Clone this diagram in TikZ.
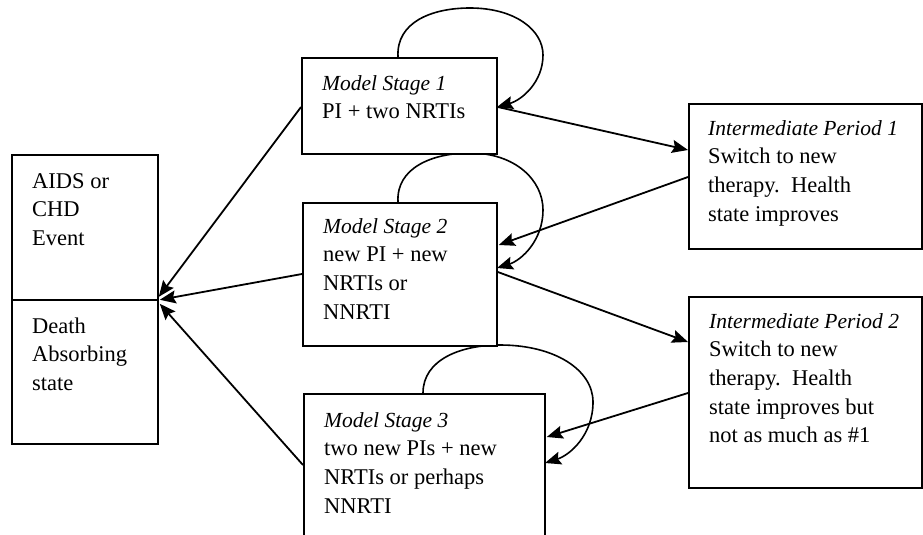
\documentclass[tikz,border=0pt]{standalone}
\usepackage{fontspec}
\setmainfont{Liberation Serif}
\usetikzlibrary{arrows.meta}
\newcommand{\lines}[1]{\begin{tabular}[t]{@{}l@{}}#1\end{tabular}}
\newcommand{\ititle}[1]{{\fontsize{21.5}{28.7}\selectfont\itshape #1}}
\begin{document}
\begin{tikzpicture}[x=1pt,y=-1pt,
  box/.style={draw=black, line width=1.8pt, fill=white, rectangle, inner sep=0pt, anchor=north west},
  txt/.style={anchor=base west, inner sep=0pt, font=\fontsize{22.5}{28.7}\selectfont},
  conn/.style={line width=1.8pt, -{Stealth[length=16pt,width=13pt,inset=2.5pt]}},
  loopc/.style={line width=1.6pt, -{Stealth[length=16pt,width=13pt,inset=2.5pt]}}]
\useasboundingbox (0,0) rectangle (923,535);
\clip (0,0) rectangle (923,535);
% self loops (drawn first, boxes cover them)
\draw[loopc] (398,57) .. controls (396,22) and (432,8) .. (470,8)
  .. controls (515,8) and (543,30) .. (543,55)
  .. controls (543,82) and (522,100) .. (497,107);
\draw[loopc] (398,202) .. controls (396,168) and (432,153) .. (470,153)
  .. controls (515,153) and (543,180) .. (543,210)
  .. controls (543,240) and (522,260) .. (497,268);
\draw[loopc] (423,393) .. controls (423,360) and (460,345) .. (500,345)
  .. controls (555,345) and (593,370) .. (593,402)
  .. controls (593,435) and (570,455) .. (545,463);
% boxes
\node[box, minimum width=146pt, minimum height=145pt] (ltop) at (11,154) {};
\node[box, minimum width=146pt, minimum height=144pt] (lbot) at (11,299) {};
\node[box, minimum width=195pt, minimum height=96pt] (s1) at (301,57) {};
\node[box, minimum width=194pt, minimum height=143pt] (s2) at (302,202) {};
\node[box, minimum width=241pt, minimum height=170pt] (s3) at (303,393) {};
\node[box, minimum width=233pt, minimum height=145pt] (i1) at (688,103) {};
\node[box, minimum width=233pt, minimum height=191pt] (i2) at (688,296) {};
% texts
\node[txt] (ltopt) at (32,188) {\lines{AIDS or\\CHD\\Event}};
\node[txt] (lbott) at (32,333) {\lines{Death\\Absorbing\\state}};
\node[txt] (s1t) at (322,90) {\lines{\ititle{Model Stage 1}\\PI + two NRTIs}};
\node[txt] (s2t) at (323,233) {\lines{\ititle{Model Stage 2}\\new PI + new\\NRTIs or\\NNRTI}};
\node[txt] (s3t) at (324,427) {\lines{\ititle{Model Stage 3}\\two new PIs + new\\NRTIs or perhaps\\NNRTI}};
\node[txt] (i1t) at (708,135) {\lines{\ititle{Intermediate Period 1}\\Switch to new\\therapy.\ \ Health\\state improves}};
\node[txt] (i2t) at (709,328) {\lines{\ititle{Intermediate Period 2}\\Switch to new\\therapy.\ \ Health\\state improves but\\not as much as \#1}};
% connectors
\draw[conn] ([yshift=-50pt]s1.north west) -- ([yshift=4pt]ltop.south east);
\draw[conn] ([yshift=-72pt]s2.north west) -- ([yshift=1pt,xshift=1pt]ltop.south east);
\draw[conn] ([yshift=-72pt]s3.north west) -- ([yshift=-3pt,xshift=1pt]ltop.south east);
\draw[conn] ([yshift=-50pt]s1.north east) -- ([yshift=-47pt]i1.north west);
\draw[conn] ([yshift=-74pt]i1.north west) -- ([yshift=-43pt,xshift=1pt]s2.north east);
\draw[conn] ([yshift=-70pt]s2.north east) -- ([yshift=-46pt]i2.north west);
\draw[conn] ([yshift=-97pt]i2.north west) -- ([yshift=-44pt,xshift=1pt]s3.north east);
\end{tikzpicture}
\end{document}
